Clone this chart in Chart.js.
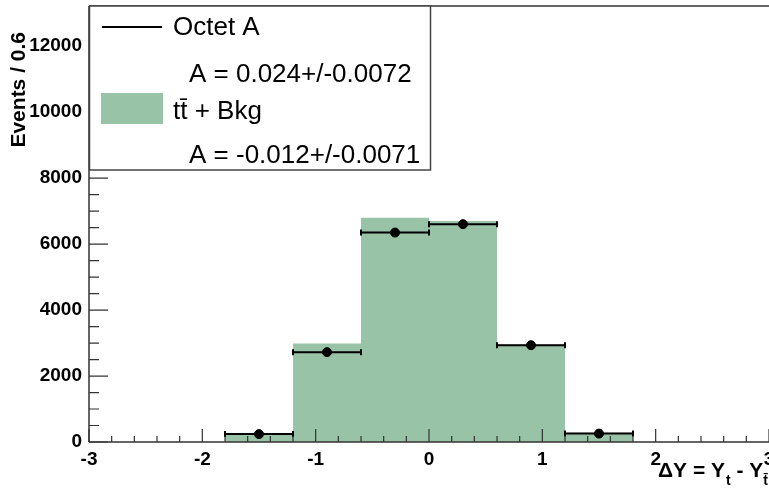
<!DOCTYPE html>
<html>
<head>
<meta charset="utf-8">
<script src="https://cdn.jsdelivr.net/npm/chart.js@4.4.1/dist/chart.umd.min.js"></script>
<style>
  html, body { margin: 0; padding: 0; background: #fff; }
  #wrap { width: 769px; height: 490px; }
</style>
</head>
<body>
<div id="wrap"><canvas id="c" width="769" height="490"></canvas></div>
<script>
/* bin edges of dY = Yt - Ytbar (bin width 0.6) */
var binEdges    = [-1.8, -1.2, -0.6, 0.0, 0.6, 1.2, 1.8];
/* tt + Bkg histogram */
var bkgCounts   = [265, 2990, 6800, 6700, 2960, 280];
/* Octet A points */
var octetCounts = [240, 2725, 6350, 6605, 2935, 255];
/* axes */
var xRange = [-3, 3];
var yRange = [0, 13220];
var xTicks = [-3, -2, -1, 0, 1, 2, 3];
var yTicks = [0, 2000, 4000, 6000, 8000, 10000, 12000];
var legendLines = ["Octet A", "A = 0.024+/-0.0072", "tt\u0304 + Bkg", "A = -0.012+/-0.0071"];

var GREEN = "rgb(153,195,166)";
var AXIS  = "#333";
var FONT  = "'Liberation Sans', Arial, Helvetica, sans-serif";

/* histogram as stepped line: value of bin i holds from edge i to edge i+1 */
var histData = binEdges.map(function (e, i) {
  return { x: e, y: bkgCounts[Math.min(i, bkgCounts.length - 1)] };
});
var pointData = octetCounts.map(function (v, i) {
  return { x: (binEdges[i] + binEdges[i + 1]) / 2, y: v };
});

var rootPlugin = {
  id: "rootStyle",
  beforeDatasetDraw: function (chart, args) {
    if (args.index !== 1) return;
    var ctx = chart.ctx, xs = chart.scales.x, ys = chart.scales.y;
    ctx.save();
    ctx.strokeStyle = "#000";
    ctx.lineWidth = 2;
    octetCounts.forEach(function (v, i) {
      var xl = xs.getPixelForValue(binEdges[i]);
      var xr = xs.getPixelForValue(binEdges[i + 1]);
      var y  = ys.getPixelForValue(v);
      ctx.beginPath();
      ctx.moveTo(xl, y); ctx.lineTo(xr, y);
      ctx.moveTo(xl, y - 3); ctx.lineTo(xl, y + 3);
      ctx.moveTo(xr, y - 3); ctx.lineTo(xr, y + 3);
      ctx.stroke();
    });
    ctx.restore();
  },
  afterDatasetsDraw: function (chart) {
    var ctx = chart.ctx, xs = chart.scales.x, ys = chart.scales.y, a = chart.chartArea;
    ctx.save();
    ctx.strokeStyle = AXIS;
    ctx.lineWidth = 1.5;
    ctx.beginPath();
    /* frame: left, bottom, top */
    ctx.moveTo(a.left, a.top); ctx.lineTo(a.left, a.bottom);
    ctx.moveTo(a.left, a.bottom); ctx.lineTo(a.right, a.bottom);
    ctx.moveTo(a.left, a.top); ctx.lineTo(a.right, a.top);
    ctx.stroke();
    ctx.lineWidth = 1.2;
    ctx.beginPath();
    /* x ticks: major every 1, minor every 0.2 */
    for (var k = 0; k <= 30; k++) {
      var xv = xRange[0] + k * 0.2;
      var px = xs.getPixelForValue(xv);
      var len = (k % 5 === 0) ? 13 : 6;
      ctx.moveTo(px, a.bottom); ctx.lineTo(px, a.bottom - len);
    }
    /* y ticks: major every 2000, minor every 500 */
    for (var j = 0; j * 500 <= yRange[1]; j++) {
      var py = ys.getPixelForValue(j * 500);
      var l2 = (j % 4 === 0) ? 19 : 10;
      ctx.moveTo(a.left, py); ctx.lineTo(a.left + l2, py);
    }
    ctx.stroke();
    ctx.restore();
  },
  afterDraw: function (chart) {
    var ctx = chart.ctx;
    ctx.save();
    /* legend box */
    ctx.fillStyle = "#fff";
    ctx.fillRect(89.5, 6, 341, 164);
    ctx.strokeStyle = "#444";
    ctx.lineWidth = 1.5;
    ctx.strokeRect(89.5, 6, 341, 164);
    ctx.strokeStyle = "#000";
    ctx.lineWidth = 2;
    ctx.beginPath(); ctx.moveTo(102, 27); ctx.lineTo(162, 27); ctx.stroke();
    ctx.fillStyle = GREEN;
    ctx.fillRect(101, 93, 62, 31);
    ctx.fillStyle = "#000";
    ctx.font = "26px " + FONT;
    ctx.textAlign = "left";
    ctx.textBaseline = "alphabetic";
    ctx.fillText(legendLines[0], 173, 35);
    ctx.fillText(legendLines[1], 189, 82);
    ctx.fillText(legendLines[2], 173, 119);
    ctx.fillText(legendLines[3], 189, 163);

    /* y title */
    ctx.save();
    ctx.translate(25, 32);
    ctx.rotate(-Math.PI / 2);
    ctx.font = "bold 21px " + FONT;
    ctx.textAlign = "right";
    ctx.textBaseline = "alphabetic";
    ctx.fillText("Events / 0.6", 0, 0);
    ctx.restore();

    /* x title: dY = Y_t - Y_tbar */
    var x0 = 658, yb = 477;
    ctx.font = "bold 21px " + FONT;
    ctx.fillText("\u0394Y = Y", x0, yb);
    x0 += ctx.measureText("\u0394Y = Y").width;
    ctx.font = "bold 14px " + FONT;
    ctx.fillText("t", x0 + 1, yb + 8);
    x0 += ctx.measureText("t").width + 1;
    ctx.font = "bold 21px " + FONT;
    ctx.fillText(" - Y", x0, yb);
    x0 += ctx.measureText(" - Y").width;
    ctx.font = "bold 14px " + FONT;
    ctx.fillText("t\u0304", x0, yb + 8);
    ctx.restore();
  }
};

function fixedTicks(list) {
  return function (s) { s.ticks = list.map(function (v) { return { value: v }; }); };
}

new Chart(document.getElementById("c"), {
  data: {
    datasets: [
      {
        type: "line",
        label: "tt + Bkg",
        data: histData,
        stepped: true,
        fill: "origin",
        backgroundColor: GREEN,
        borderWidth: 0,
        pointRadius: 0,
        order: 1
      },
      {
        type: "scatter",
        label: "Octet A",
        data: pointData,
        pointRadius: 4.5,
        pointBackgroundColor: "#000",
        pointBorderColor: "#000",
        order: 0
      }
    ]
  },
  options: {
    responsive: false,
    animation: false,
    devicePixelRatio: 1,
    layout: { autoPadding: false, padding: { top: 6, left: 0, right: 0, bottom: 0 } },
    plugins: { legend: { display: false }, tooltip: { enabled: false } },
    scales: {
      x: {
        type: "linear",
        min: xRange[0], max: xRange[1],
        grid: { display: false, drawTicks: false },
        border: { display: false },
        afterBuildTicks: fixedTicks(xTicks),
        ticks: { color: "#000", padding: 6,
                 callback: function (v) { return String(v); },
                 font: { family: FONT, size: 19, weight: "bold" } },
        afterFit: function (s) { s.height = 48; s.paddingLeft = 0; s.paddingRight = 0; }
      },
      y: {
        type: "linear",
        min: yRange[0], max: yRange[1],
        grid: { display: false, drawTicks: false },
        border: { display: false },
        afterBuildTicks: fixedTicks(yTicks),
        ticks: { color: "#000", padding: 7,
                 callback: function (v) { return String(v); },
                 font: { family: FONT, size: 19, weight: "bold" } },
        afterFit: function (s) { s.width = 89; s.paddingTop = 0; s.paddingBottom = 0; }
      }
    }
  },
  plugins: [rootPlugin]
});
</script>
</body>
</html>
